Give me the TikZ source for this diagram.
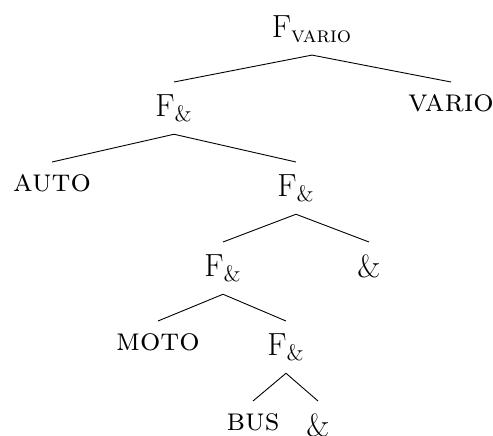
\documentclass[tikz,border=0pt]{standalone}
\begin{document}
\begin{tikzpicture}[x=0.5pt,y=-0.5pt,
  lbl/.style={anchor=north,inner sep=6pt,font=\fontsize{16}{19}\selectfont},
  branch/.style={line width=0.45pt}]
  \useasboundingbox (0,0) rectangle (493,435);
  % Root
  \node[lbl] (root) at (312,3) {F\textsubscript{\textsc{vario}}};
  % Level 1
  \node[lbl] (fand1) at (174,82) {F\textsubscript{\&}};
  \node[lbl] (vario) at (451,82) {\textsc{vario}};
  % Level 2
  \node[lbl] (auto) at (52,162) {\textsc{auto}};
  \node[lbl] (fand2) at (296,162) {F\textsubscript{\&}};
  % Level 3
  \node[lbl] (fand3) at (223,242) {F\textsubscript{\&}};
  \node[lbl] (amp1) at (369,242) {\&};
  % Level 4
  \node[lbl] (moto) at (158,321) {\textsc{moto}};
  \node[lbl] (fand4) at (286,321) {F\textsubscript{\&}};
  % Level 5
  \node[lbl] (bus) at (253,401) {\textsc{bus}};
  \node[lbl] (amp2) at (318,401) {\&};
  % Branches
  \draw[branch] (root.south) -- (fand1.north);
  \draw[branch] (root.south) -- (vario.north);
  \draw[branch] (fand1.south) -- (auto.north);
  \draw[branch] (fand1.south) -- (fand2.north);
  \draw[branch] (fand2.south) -- (fand3.north);
  \draw[branch] (fand2.south) -- (amp1.north);
  \draw[branch] (fand3.south) -- (moto.north);
  \draw[branch] (fand3.south) -- (fand4.north);
  \draw[branch] (fand4.south) -- (bus.north);
  \draw[branch] (fand4.south) -- (amp2.north);
\end{tikzpicture}
\end{document}
